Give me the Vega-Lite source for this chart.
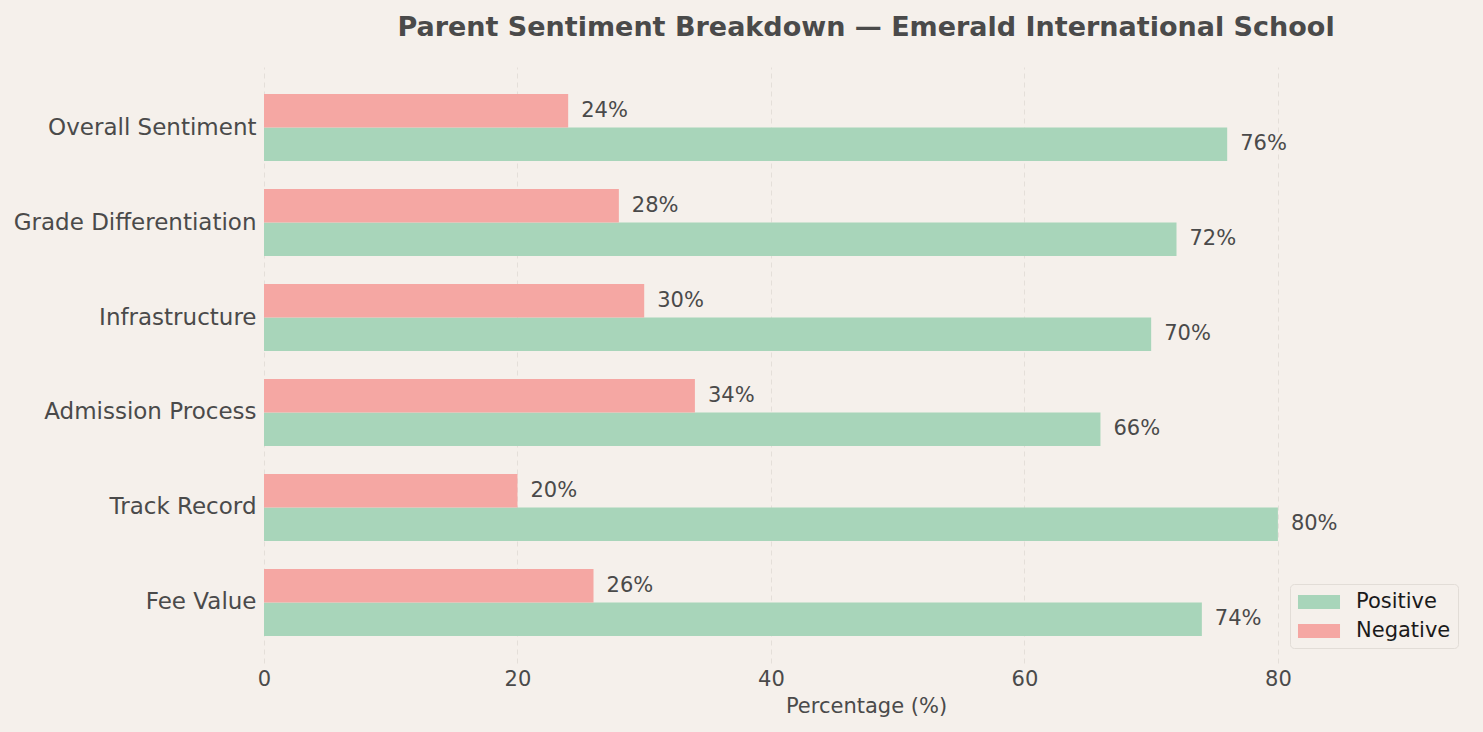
{
  "$schema": "https://vega.github.io/schema/vega-lite/v6.json",
  "width": 1204,
  "height": 596,
  "autosize": "none",
  "padding": {"left": 264, "top": 67, "right": 15, "bottom": 69},
  "background": "#f5f0eb",
  "title": {
    "text": "Parent Sentiment Breakdown — Emerald International School",
    "fontSize": 27,
    "fontWeight": "bold",
    "color": "#4a4a4a",
    "font": "DejaVu Sans",
    "anchor": "middle",
    "offset": 25
  },
  "config": {
    "font": "DejaVu Sans",
    "view": {"stroke": null},
    "axis": {
      "domain": false,
      "ticks": false,
      "labelColor": "#4a4a4a",
      "titleColor": "#4a4a4a",
      "labelFont": "DejaVu Sans",
      "titleFont": "DejaVu Sans"
    }
  },
  "data": {
    "values": [
      {"aspect": "Overall Sentiment", "sentiment": "Positive", "pct": 76},
      {"aspect": "Overall Sentiment", "sentiment": "Negative", "pct": 24},
      {"aspect": "Grade Differentiation", "sentiment": "Positive", "pct": 72},
      {"aspect": "Grade Differentiation", "sentiment": "Negative", "pct": 28},
      {"aspect": "Infrastructure", "sentiment": "Positive", "pct": 70},
      {"aspect": "Infrastructure", "sentiment": "Negative", "pct": 30},
      {"aspect": "Admission Process", "sentiment": "Positive", "pct": 66},
      {"aspect": "Admission Process", "sentiment": "Negative", "pct": 34},
      {"aspect": "Track Record", "sentiment": "Positive", "pct": 80},
      {"aspect": "Track Record", "sentiment": "Negative", "pct": 20},
      {"aspect": "Fee Value", "sentiment": "Positive", "pct": 74},
      {"aspect": "Fee Value", "sentiment": "Negative", "pct": 26}
    ]
  },
  "encoding": {
    "y": {
      "field": "aspect",
      "type": "nominal",
      "sort": ["Overall Sentiment", "Grade Differentiation", "Infrastructure", "Admission Process", "Track Record", "Fee Value"],
      "scale": {"paddingInner": 0.295, "paddingOuter": 0.285},
      "axis": {
        "title": null,
        "grid": false,
        "labelFontSize": 23,
        "labelPadding": 8,
        "labelLimit": 400
      }
    },
    "yOffset": {
      "field": "sentiment",
      "type": "nominal",
      "scale": {"domain": ["Negative", "Positive"], "paddingInner": 0, "paddingOuter": 0}
    },
    "x": {
      "field": "pct",
      "type": "quantitative",
      "scale": {"domain": [0, 95], "nice": false},
      "axis": {
        "title": "Percentage (%)",
        "titleFontSize": 21,
        "titleFontWeight": "normal",
        "titlePadding": 6,
        "labelFontSize": 21,
        "labelPadding": 5,
        "labelFlush": false,
        "values": [0, 20, 40, 60, 80],
        "grid": true,
        "gridColor": "#e4dfd9",
        "gridDash": [5, 4],
        "gridWidth": 1
      }
    }
  },
  "layer": [
    {
      "mark": {"type": "bar"},
      "encoding": {
        "color": {
          "field": "sentiment",
          "type": "nominal",
          "scale": {"domain": ["Positive", "Negative"], "range": ["#a8d5ba", "#f5a7a3"]},
          "legend": {
            "title": null,
            "orient": "none",
            "legendX": 1026,
            "legendY": 517,
            "padding": 7,
            "strokeColor": "#e2ddd7",
            "fillColor": "#f5f0eb",
            "cornerRadius": 4,
            "symbolType": "M-1.91,-0.64H1.91V0.64H-1.91Z",
            "symbolSize": 484,
            "symbolOffset": 11,
            "symbolStrokeWidth": 0,
            "symbolOpacity": 1,
            "labelFontSize": 21,
            "labelColor": "#1a1a1a",
            "labelOffset": 26,
            "rowPadding": 8
          }
        }
      }
    },
    {
      "mark": {"type": "text", "align": "left", "baseline": "middle", "dx": 13, "fontSize": 21, "color": "#4a4a4a"},
      "encoding": {
        "text": {"field": "pct_label", "type": "nominal"}
      },
      "transform": [{"calculate": "datum.pct + '%'", "as": "pct_label"}]
    }
  ]
}
